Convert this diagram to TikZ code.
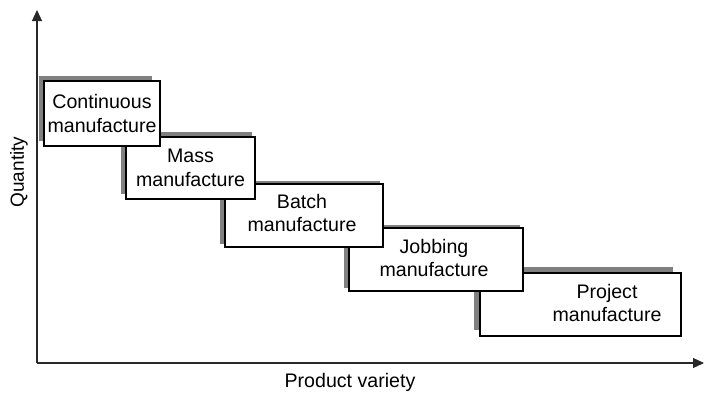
\documentclass[tikz,border=0pt]{standalone}
\usepackage{fontspec}
\setmainfont{Liberation Sans}
\usetikzlibrary{arrows.meta}
\definecolor{shadowgray}{RGB}{128,128,128}
\definecolor{axisgray}{RGB}{40,40,40}
\tikzset{
  shade box/.style={fill=shadowgray, draw=none},
  procbox/.style={draw=black, fill=white, line width=1.1pt, inner sep=0pt},
  boxtext/.style={align=center, font=\fontsize{19.6}{23.5}\selectfont, inner sep=0pt},
  axis/.style={draw=axisgray, line width=1.2pt, -{Triangle[length=11pt,width=10pt]}},
}
\begin{document}
\begin{tikzpicture}[x=1pt,y=-1pt]
\useasboundingbox (0,0) rectangle (705,392);
% box 5
\fill[shade box] (474,267) rectangle (673,330);
\node[procbox, minimum width=201pt, minimum height=63pt] (b5) at (580.5,304.5) {};
\node[boxtext] (t5) at (607,303) {Project\\manufacture};
% box 4
\fill[shade box] (344,225) rectangle (520,288);
\node[procbox, minimum width=174pt, minimum height=63pt] (b4) at (436,259.5) {};
\node[boxtext] (t4) at (434,258) {Jobbing\\manufacture};
% box 3
\fill[shade box] (220,181) rectangle (380,244);
\node[procbox, minimum width=158pt, minimum height=63pt] (b3) at (304,215.5) {};
\node[boxtext] (t3) at (302,213) {Batch\\manufacture};
% box 2
\fill[shade box] (121,132) rectangle (252,194);
\node[procbox, minimum width=129pt, minimum height=62pt] (b2) at (190.5,168) {};
\node[boxtext] (t2) at (b2.center) {Mass\\manufacture};
% box 1
\fill[shade box] (39,76) rectangle (152,141);
\node[procbox, minimum width=116pt, minimum height=65pt] (b1) at (102,113.5) {};
\node[boxtext] (t1) at (b1.center) {Continuous\\manufacture};
% axes
\coordinate (o) at (37,363);
\coordinate (ytip) at (37,10);
\coordinate (xtip) at (704,363);
\draw[axis] (o) -- (ytip);
\draw[axis] (o) -- (xtip);
\node[font=\fontsize{19.6}{23.5}\selectfont] (xl) at (350,382) {Product variety};
\node[font=\fontsize{19}{22}\selectfont, rotate=90] (yl) at (19,172) {Quantity};
\end{tikzpicture}
\end{document}
